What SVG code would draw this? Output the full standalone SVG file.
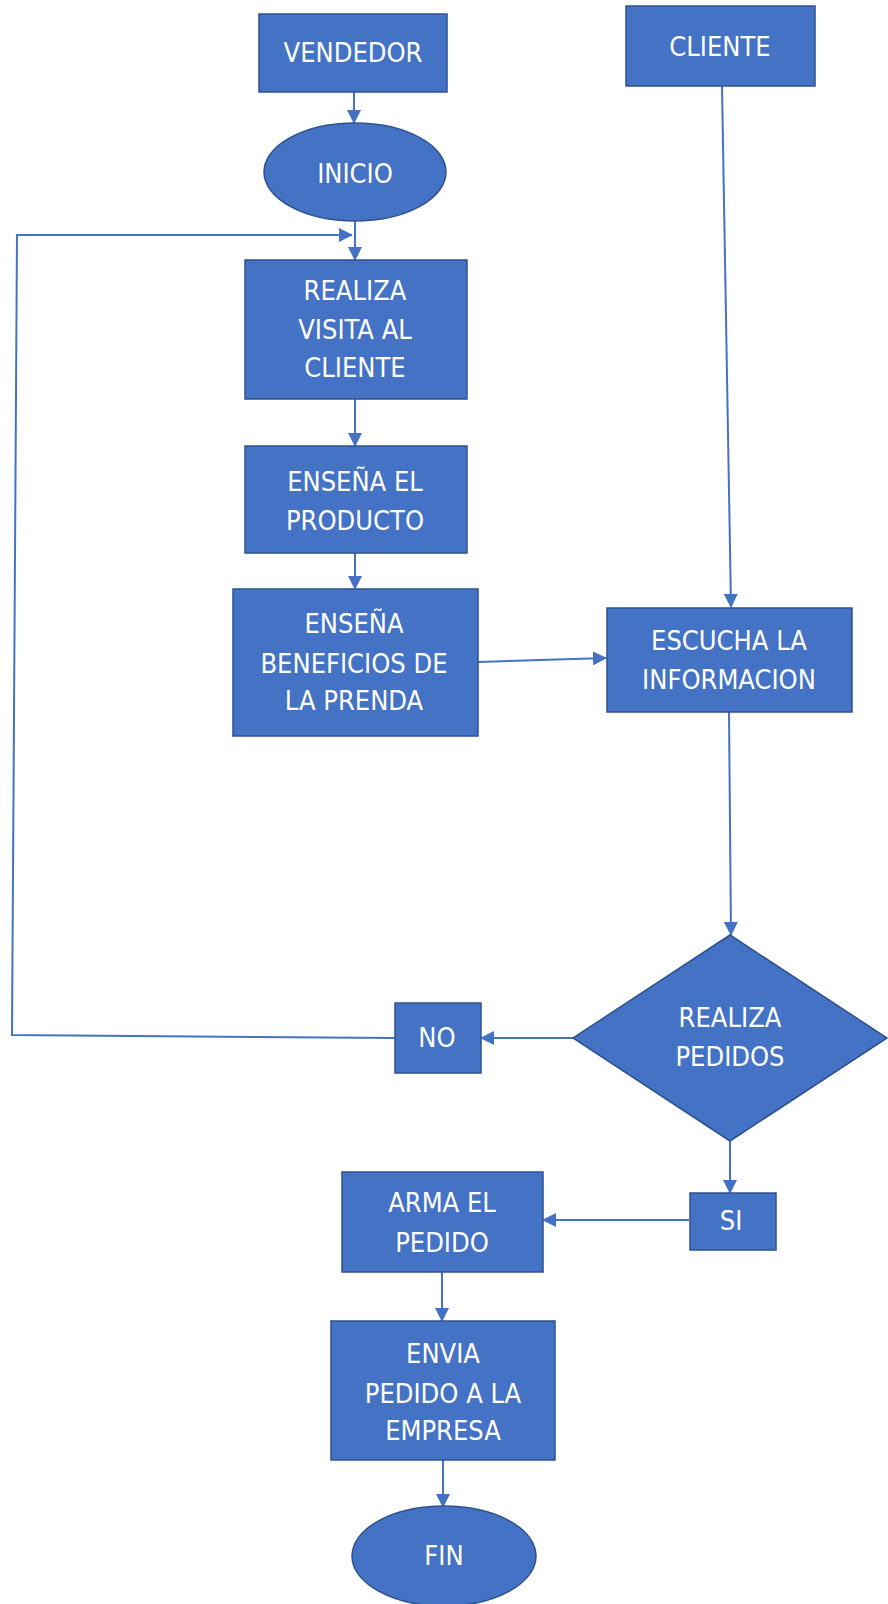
<svg xmlns="http://www.w3.org/2000/svg" width="888" height="1604" viewBox="0 0 888 1604">
<defs>
<marker id="ah" markerUnits="userSpaceOnUse" markerWidth="14" markerHeight="14" refX="13" refY="7" orient="auto">
<path d="M0,0 L14,7 L0,14 Z" fill="#4472C4"/>
</marker>
<style>
.n{fill:#4472C4;stroke:#2F528F;stroke-width:1.5}
.t{fill:#fff;font-family:"DejaVu Sans Condensed","Liberation Sans",sans-serif;font-size:27px;text-anchor:middle}
.c{fill:none;stroke:#4472C4;stroke-width:2;marker-end:url(#ah)}
</style>
</defs>
<rect width="888" height="1604" fill="#fff"/>
<g id="connectors">
<path class="c" d="M354,92 L354,123"/>
<path class="c" d="M355,221 L355,260"/>
<path class="c" d="M395,1038 L12,1035 L17,235 L352,235"/>
<path class="c" d="M355,399 L355,446"/>
<path class="c" d="M355,553 L355,589"/>
<path class="c" d="M478,662 L606,658"/>
<path class="c" d="M722,86 L731,607"/>
<path class="c" d="M729,712 L731,935"/>
<path class="c" d="M573,1038 L481,1038"/>
<path class="c" d="M730,1141 L730,1193"/>
<path class="c" d="M689,1220 L543,1220"/>
<path class="c" d="M442,1272 L442,1321"/>
<path class="c" d="M443,1459 L443,1507"/>
</g>
<g id="vendedor"><rect class="n" x="259" y="14" width="188" height="78"/><text class="t" x="353" y="62">VENDEDOR</text></g>
<g id="cliente"><rect class="n" x="626" y="6" width="189" height="80"/><text class="t" x="720" y="56">CLIENTE</text></g>
<g id="inicio"><ellipse class="n" cx="355" cy="172" rx="91" ry="49"/><text class="t" x="355" y="183">INICIO</text></g>
<g id="realiza-visita"><rect class="n" x="245" y="260" width="222" height="139"/><text class="t" x="355" y="300">REALIZA</text><text class="t" x="355" y="339">VISITA AL</text><text class="t" x="355" y="377">CLIENTE</text></g>
<g id="ensena-producto"><rect class="n" x="245" y="446" width="222" height="107"/><text class="t" x="355" y="491">ENSEÑA EL</text><text class="t" x="355" y="530">PRODUCTO</text></g>
<g id="ensena-beneficios"><rect class="n" x="233" y="589" width="245" height="147"/><text class="t" x="354" y="633">ENSEÑA</text><text class="t" x="354" y="673">BENEFICIOS DE</text><text class="t" x="354" y="710">LA PRENDA</text></g>
<g id="escucha"><rect class="n" x="607" y="608" width="245" height="104"/><text class="t" x="729" y="650">ESCUCHA LA</text><text class="t" x="729" y="689">INFORMACION</text></g>
<g id="realiza-pedidos"><polygon class="n" points="730,935 887,1038 730,1141 573,1038"/><text class="t" x="730" y="1027">REALIZA</text><text class="t" x="730" y="1066">PEDIDOS</text></g>
<g id="no"><rect class="n" x="395" y="1003" width="86" height="70"/><text class="t" x="437" y="1047">NO</text></g>
<g id="si"><rect class="n" x="690" y="1193" width="86" height="57"/><text class="t" x="731" y="1230">SI</text></g>
<g id="arma-pedido"><rect class="n" x="342" y="1172" width="201" height="100"/><text class="t" x="442" y="1212">ARMA EL</text><text class="t" x="442" y="1252">PEDIDO</text></g>
<g id="envia-pedido"><rect class="n" x="331" y="1321" width="224" height="139"/><text class="t" x="443" y="1363">ENVIA</text><text class="t" x="443" y="1403">PEDIDO A LA</text><text class="t" x="443" y="1440">EMPRESA</text></g>
<g id="fin"><ellipse class="n" cx="444" cy="1556" rx="92" ry="50"/><text class="t" x="444" y="1565">FIN</text></g>
</svg>
